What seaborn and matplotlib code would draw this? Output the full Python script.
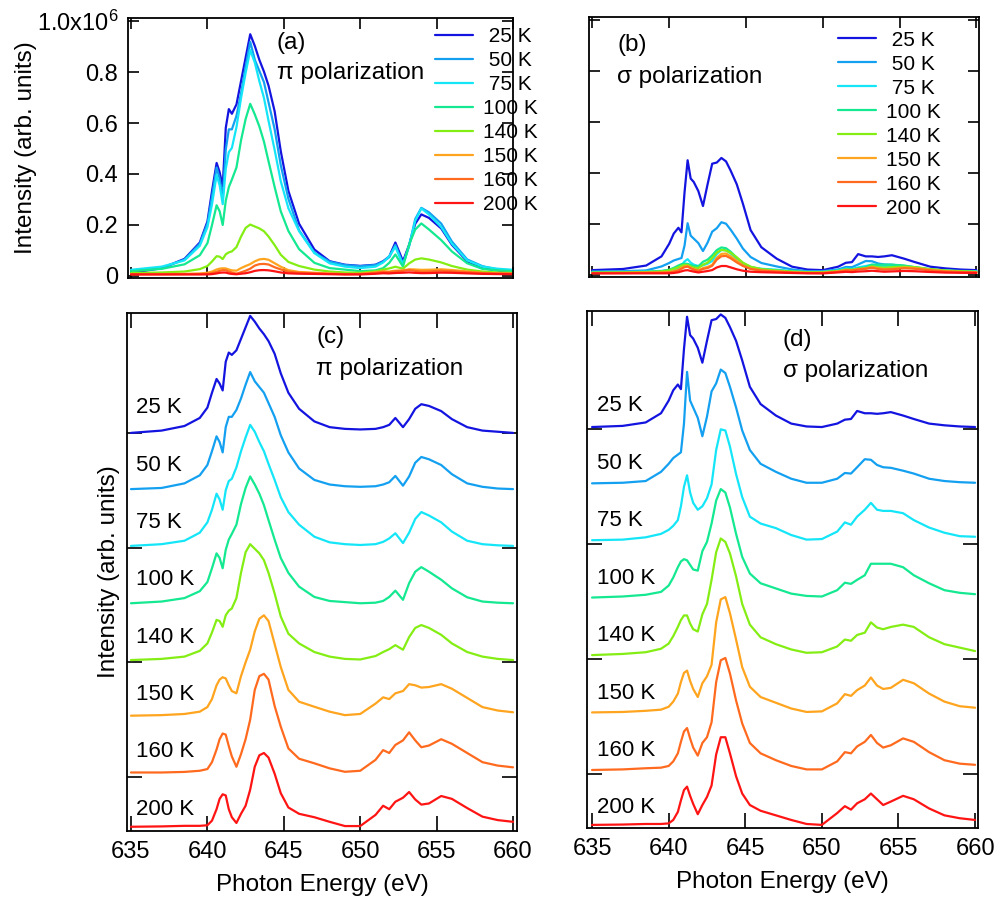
import numpy as np
import pandas as pd
import matplotlib
matplotlib.use("Agg")
import matplotlib.pyplot as plt
import seaborn as sns

# photon energy grid (eV) shared by every spectrum
energy = [635, 637, 638.5, 639.5, 640.0, 640.3, 640.6, 640.8, 641.0, 641.2, 641.4, 641.6,
          641.9, 642.2, 642.5, 642.8, 643.1, 643.4, 643.7, 644.0, 644.4, 644.8, 645.3, 646,
          647, 648, 649, 650, 651, 651.5, 651.9, 652.3, 652.8, 653.2, 653.6, 654.0, 654.5,
          655.3, 656, 657, 658, 659, 660]

temps = ["25 K", "50 K", "75 K", "100 K", "140 K", "150 K", "160 K", "200 K"]
legend_labels = [" 25 K", " 50 K", " 75 K", "100 K", "140 K", "150 K", "160 K", "200 K"]

# normalized spectra, pi polarization (panel c, without offsets)
pi_25K = [0.00, 0.02, 0.06, 0.13, 0.22, 0.35, 0.47, 0.43, 0.37, 0.62, 0.70, 0.68, 0.72, 0.82,
          0.92, 1.02, 0.97, 0.91, 0.86, 0.80, 0.69, 0.52, 0.35, 0.21, 0.10, 0.05, 0.035, 0.03,
          0.035, 0.05, 0.07, 0.13, 0.05, 0.12, 0.21, 0.25, 0.235, 0.19, 0.12, 0.05, 0.02, 0.01, 0.00]
pi_50K = [0.01, 0.02, 0.06, 0.13, 0.22, 0.34, 0.47, 0.42, 0.33, 0.55, 0.64, 0.64, 0.70, 0.80,
          0.92, 1.03, 0.95, 0.90, 0.85, 0.76, 0.64, 0.48, 0.33, 0.19, 0.09, 0.05, 0.035, 0.03,
          0.035, 0.05, 0.07, 0.125, 0.04, 0.12, 0.24, 0.29, 0.27, 0.22, 0.14, 0.06, 0.03, 0.015, 0.01]
pi_75K = [0.015, 0.03, 0.06, 0.13, 0.22, 0.33, 0.47, 0.42, 0.33, 0.50, 0.58, 0.60, 0.70, 0.84,
          0.96, 1.07, 1.01, 0.92, 0.84, 0.73, 0.59, 0.44, 0.31, 0.20, 0.095, 0.046, 0.03, 0.023,
          0.03, 0.05, 0.08, 0.125, 0.04, 0.13, 0.25, 0.31, 0.28, 0.22, 0.14, 0.06, 0.03, 0.02, 0.015]
pi_100K = [0.015, 0.03, 0.06, 0.12, 0.20, 0.32, 0.45, 0.41, 0.32, 0.48, 0.57, 0.62, 0.70, 0.88,
           1.02, 1.12, 1.05, 0.97, 0.87, 0.74, 0.57, 0.41, 0.28, 0.16, 0.07, 0.035, 0.025, 0.015,
           0.02, 0.035, 0.07, 0.125, 0.045, 0.19, 0.29, 0.33, 0.29, 0.22, 0.145, 0.067, 0.03, 0.02, 0.015]
pi_140K = [0.02, 0.03, 0.05, 0.10, 0.165, 0.26, 0.37, 0.36, 0.31, 0.41, 0.45, 0.47, 0.56, 0.78,
           0.96, 1.03, 0.99, 0.95, 0.89, 0.78, 0.60, 0.40, 0.25, 0.165, 0.09, 0.05, 0.03, 0.025,
           0.055, 0.09, 0.115, 0.15, 0.11, 0.22, 0.30, 0.325, 0.30, 0.24, 0.165, 0.09, 0.05, 0.03, 0.02]
pi_150K = [0.035, 0.04, 0.05, 0.07, 0.11, 0.18, 0.30, 0.35, 0.37, 0.36, 0.30, 0.25, 0.23, 0.38,
           0.50, 0.61, 0.77, 0.88, 0.91, 0.86, 0.66, 0.46, 0.26, 0.157, 0.113, 0.07, 0.04, 0.05,
           0.14, 0.195, 0.18, 0.23, 0.25, 0.31, 0.30, 0.28, 0.285, 0.31, 0.27, 0.19, 0.11, 0.08, 0.065]
pi_160K = [0.04, 0.04, 0.045, 0.055, 0.07, 0.13, 0.24, 0.33, 0.38, 0.37, 0.27, 0.18, 0.09, 0.20,
           0.33, 0.50, 0.76, 0.88, 0.90, 0.85, 0.62, 0.44, 0.25, 0.16, 0.12, 0.076, 0.046, 0.055,
           0.15, 0.235, 0.21, 0.28, 0.32, 0.39, 0.32, 0.26, 0.275, 0.33, 0.29, 0.21, 0.13, 0.10, 0.085]
pi_200K = [0.067, 0.07, 0.075, 0.075, 0.08, 0.12, 0.22, 0.31, 0.35, 0.34, 0.22, 0.15, 0.10, 0.18,
           0.25, 0.39, 0.59, 0.69, 0.71, 0.67, 0.53, 0.36, 0.235, 0.18, 0.15, 0.11, 0.073, 0.073,
           0.17, 0.25, 0.22, 0.285, 0.32, 0.37, 0.305, 0.26, 0.27, 0.335, 0.31, 0.23, 0.155, 0.125, 0.11]

# normalized spectra, sigma polarization (panel d, without offsets)
sigma_25K = [0.02, 0.03, 0.06, 0.14, 0.25, 0.34, 0.39, 0.35, 0.70, 0.98, 0.82, 0.79, 0.71, 0.58,
             0.77, 0.95, 0.96, 1.00, 0.97, 0.89, 0.77, 0.60, 0.37, 0.22, 0.12, 0.05, 0.025, 0.02,
             0.05, 0.084, 0.09, 0.16, 0.14, 0.14, 0.135, 0.14, 0.15, 0.12, 0.09, 0.05, 0.035, 0.025, 0.02]
sigma_50K = [0.03, 0.035, 0.05, 0.13, 0.20, 0.25, 0.28, 0.30, 0.55, 1.00, 0.75, 0.69, 0.60, 0.44,
             0.61, 0.83, 0.90, 1.02, 0.99, 0.87, 0.69, 0.49, 0.32, 0.20, 0.13, 0.07, 0.035, 0.035,
             0.07, 0.12, 0.115, 0.17, 0.24, 0.235, 0.19, 0.17, 0.165, 0.14, 0.115, 0.07, 0.05, 0.04, 0.035]
sigma_75K = [0.035, 0.04, 0.06, 0.09, 0.125, 0.16, 0.21, 0.33, 0.50, 0.60, 0.45, 0.36, 0.30, 0.33,
             0.40, 0.52, 0.82, 1.00, 0.99, 0.85, 0.61, 0.41, 0.24, 0.18, 0.14, 0.08, 0.04, 0.045,
             0.11, 0.19, 0.17, 0.24, 0.30, 0.36, 0.30, 0.29, 0.29, 0.27, 0.21, 0.145, 0.10, 0.07, 0.065]
sigma_100K = [0.036, 0.045, 0.06, 0.085, 0.14, 0.21, 0.30, 0.35, 0.37, 0.36, 0.32, 0.28, 0.27, 0.44,
              0.52, 0.68, 0.88, 0.98, 0.95, 0.82, 0.59, 0.39, 0.245, 0.16, 0.115, 0.07, 0.05, 0.045,
              0.10, 0.165, 0.155, 0.19, 0.23, 0.33, 0.33, 0.33, 0.33, 0.30, 0.23, 0.16, 0.10, 0.077, 0.065]
sigma_140K = [0.035, 0.045, 0.06, 0.09, 0.135, 0.20, 0.28, 0.34, 0.38, 0.38, 0.31, 0.26, 0.24, 0.39,
              0.48, 0.69, 0.93, 1.05, 1.02, 0.92, 0.72, 0.48, 0.30, 0.19, 0.13, 0.084, 0.055, 0.06,
              0.11, 0.17, 0.16, 0.21, 0.23, 0.32, 0.275, 0.26, 0.28, 0.30, 0.28, 0.19, 0.13, 0.10, 0.07]
sigma_150K = [0.036, 0.04, 0.05, 0.06, 0.085, 0.13, 0.20, 0.30, 0.38, 0.40, 0.31, 0.24, 0.17, 0.29,
              0.35, 0.45, 0.82, 1.02, 1.04, 0.90, 0.67, 0.43, 0.26, 0.17, 0.12, 0.07, 0.04, 0.045,
              0.115, 0.195, 0.18, 0.23, 0.27, 0.34, 0.27, 0.24, 0.25, 0.32, 0.29, 0.20, 0.13, 0.09, 0.077]
sigma_160K = [0.035, 0.04, 0.05, 0.055, 0.07, 0.11, 0.18, 0.28, 0.37, 0.40, 0.31, 0.23, 0.16, 0.27,
              0.32, 0.45, 0.80, 0.99, 1.01, 0.875, 0.64, 0.44, 0.27, 0.18, 0.12, 0.07, 0.04, 0.04,
              0.11, 0.19, 0.18, 0.24, 0.28, 0.34, 0.27, 0.23, 0.25, 0.31, 0.28, 0.19, 0.12, 0.09, 0.08]
sigma_200K = [0.057, 0.06, 0.065, 0.065, 0.07, 0.10, 0.17, 0.27, 0.36, 0.39, 0.31, 0.24, 0.15, 0.23,
              0.30, 0.40, 0.67, 0.82, 0.82, 0.68, 0.48, 0.33, 0.23, 0.18, 0.14, 0.10, 0.065, 0.057,
              0.16, 0.22, 0.19, 0.245, 0.28, 0.33, 0.28, 0.23, 0.26, 0.31, 0.28, 0.20, 0.14, 0.115, 0.10]

# vertical offsets used in the stacked panels
offsets = [3.0, 2.5, 2.0, 1.5, 1.0, 0.5, 0.0, -0.5]

pi_scale = [0.918, 0.88, 0.817, 0.594, 0.188, 0.068, 0.047, 0.027]
pi_floor = [0.012, 0.012, 0.012, 0.010, 0.008, 0.005, 0.005, 0.004]
sigma_scale = [0.449, 0.195, 0.09, 0.104, 0.088, 0.076, 0.069, 0.038]
sigma_floor = [0.010, 0.008, 0.008, 0.006, 0.006, 0.005, 0.005, 0.004]

colors = ["#1414e0", "#14a0f0", "#14e6f8", "#14e890", "#84ee14", "#ffa41e", "#ff6a1e", "#ff1414"]

pi_curves = [pi_25K, pi_50K, pi_75K, pi_100K, pi_140K, pi_150K, pi_160K, pi_200K]
sigma_curves = [sigma_25K, sigma_50K, sigma_75K, sigma_100K, sigma_140K, sigma_150K,
                sigma_160K, sigma_200K]


def build_frame(curves, scales, floors):
    rows = []
    for lab, vals, off, sc, fl in zip(legend_labels, curves, offsets, scales, floors):
        for e, v in zip(energy, vals):
            rows.append({"energy": e, "temp": lab,
                         "stacked": v + off,
                         "raw": (sc * v + fl) * 1e6})
    return pd.DataFrame(rows)


def style_axis(ax, xlim, tick_len):
    ax.set_xlim(*xlim)
    ax.set_xticks([635, 640, 645, 650, 655, 660])
    ax.tick_params(direction="in", top=True, right=True, length=tick_len, width=1.2,
                   labelsize=17, pad=7, color="black", labelcolor="black")
    for sp in ax.spines.values():
        sp.set_linewidth(1.3)
        sp.set_color("black")
    ax.set_xlabel("")
    ax.set_ylabel("")


sns.set_theme(style="ticks", context="notebook")
plt.rcParams["font.family"] = ["Liberation Sans", "DejaVu Sans"]
plt.rcParams["mathtext.fontset"] = "custom"
plt.rcParams["mathtext.rm"] = "Liberation Sans"
plt.rcParams["mathtext.it"] = "Liberation Sans:italic"
plt.rcParams["text.color"] = "black"
plt.rcParams["axes.labelcolor"] = "black"

df_pi = build_frame(pi_curves, pi_scale, pi_floor)
df_sigma = build_frame(sigma_curves, sigma_scale, sigma_floor)

W, H = 1002, 907
fig = plt.figure(figsize=(W / 100, H / 100), dpi=100)


def add_axes(left, top, right, bottom):
    return fig.add_axes([left / W, 1 - bottom / H, (right - left) / W, (bottom - top) / H])


ax_a = add_axes(128, 18, 513, 278)
ax_b = add_axes(589, 17, 979, 277)
ax_c = add_axes(127, 313, 517, 831)
ax_d = add_axes(587, 311, 978, 828)

palette = dict(zip(legend_labels, colors))
line_kw = dict(x="energy", hue="temp", hue_order=legend_labels, palette=palette,
               estimator=None, sort=False, linewidth=1.6)

# (a) and (b) raw intensities
sns.lineplot(data=df_pi, y="raw", ax=ax_a, legend=True, **line_kw)
sns.lineplot(data=df_sigma, y="raw", ax=ax_b, legend=True, **line_kw)
for ax, xl in [(ax_a, (634.8, 660.0)), (ax_b, (634.78, 660.17))]:
    style_axis(ax, xl, 8)
    ax.set_ylim(-0.008e6, 1.012e6)
    ax.set_yticks([0, 0.2e6, 0.4e6, 0.6e6, 0.8e6, 1.0e6])
    ax.tick_params(labelbottom=False)

ax_a.set_yticklabels(["0", "0.2", "0.4", "0.6", "0.8", "1.0x10$^6$"])
ax_b.tick_params(labelleft=False)
ax_a.set_ylabel("Intensity (arb. units)", fontsize=17.5, labelpad=0)

for ax, x0, y0 in [(ax_a, 0.797, 0.966), (ax_b, 0.638, 0.947)]:
    handles, labels = ax.get_legend_handles_labels()
    ax.legend(handles, labels, loc="upper left", bbox_to_anchor=(x0, y0), frameon=False,
              fontsize=15, handlelength=1.83, handletextpad=0.5, labelspacing=0.24,
              borderpad=0, borderaxespad=0)

ax_a.text(0.387, 0.904, "(a)", transform=ax_a.transAxes, fontsize=17.5, va="center")
ax_a.text(0.387, 0.788, "π polarization", transform=ax_a.transAxes, fontsize=17.5, va="center")
ax_b.text(0.072, 0.892, "(b)", transform=ax_b.transAxes, fontsize=17.5, va="center")
ax_b.text(0.072, 0.769, "σ polarization", transform=ax_b.transAxes, fontsize=17.5, va="center")

# (c) and (d) normalized, stacked spectra
sns.lineplot(data=df_pi, y="stacked", ax=ax_c, legend=False, **line_kw)
sns.lineplot(data=df_sigma, y="stacked", ax=ax_d, legend=False, **line_kw)
for ax, xl, yl in [(ax_c, (634.74, 660.26), (-0.47, 4.045)),
                   (ax_d, (634.67, 660.19), (-0.47, 4.03))]:
    style_axis(ax, xl, 11)
    ax.set_ylim(*yl)
    ax.set_yticks([0, 1, 2, 3])
    ax.tick_params(labelleft=False)
    ax.set_xlabel("Photon Energy (eV)", fontsize=17.5, labelpad=8)

ax_c.set_ylabel("Intensity (arb. units)", fontsize=17.5, labelpad=5)

for t, off in zip(temps, offsets):
    ax_c.text(635.35, off + 0.22, t, fontsize=16, va="center")
    ax_d.text(635.35, off + 0.205, t, fontsize=16, va="center")

ax_c.text(0.485, 0.954, "(c)", transform=ax_c.transAxes, fontsize=17.5, va="center")
ax_c.text(0.485, 0.892, "π polarization", transform=ax_c.transAxes, fontsize=17.5, va="center")
ax_d.text(0.501, 0.944, "(d)", transform=ax_d.transAxes, fontsize=17.5, va="center")
ax_d.text(0.501, 0.884, "σ polarization", transform=ax_d.transAxes, fontsize=17.5, va="center")

fig.savefig("out.png", dpi=100, facecolor="white")
